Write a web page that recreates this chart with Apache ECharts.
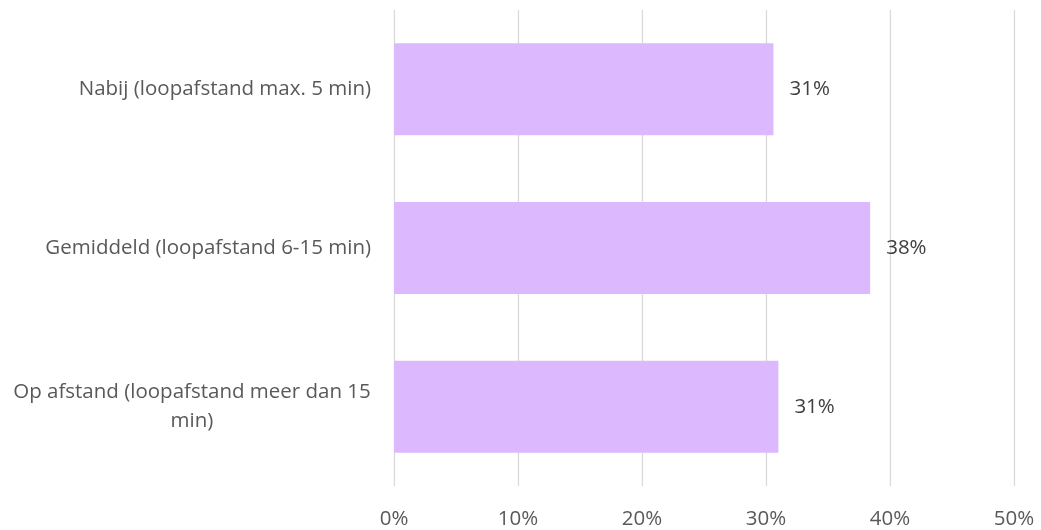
<!DOCTYPE html>
<html>
<head>
<meta charset="utf-8">
<script src="https://cdn.jsdelivr.net/npm/echarts@6/dist/echarts.min.js"></script>
<style>html,body{margin:0;padding:0;background:#fff;}#c{width:1041px;height:530px;}</style>
</head>
<body>
<div id="c"></div>
<script>
const categories = [
  "Nabij (loopafstand max. 5 min)",
  "Gemiddeld (loopafstand 6-15 min)",
  "Op afstand (loopafstand meer dan 15 min)"
];
const values = [30.6, 38.4, 31.0];
const tickLabels = ["0%", "10%", "20%", "30%", "40%", "50%"];

const font = '"Open Sans", sans-serif';
const fs = 20.5;
const line1 = "Op afstand (loopafstand meer dan 15";
const line2 = "min)";
const cv = document.createElement('canvas').getContext('2d');
cv.font = fs + 'px ' + font;
const w1 = Math.ceil(cv.measureText(line1).width);

const chart = echarts.init(document.getElementById('c'));
chart.setOption({
  animation: false,
  grid: { left: 394, right: 27, top: 10, bottom: 43, containLabel: false },
  xAxis: {
    type: 'value', min: 0, max: 50, interval: 10,
    axisLine: { show: false }, axisTick: { show: false },
    splitLine: { lineStyle: { color: '#D9D9D9', width: 1.3 } },
    axisLabel: {
      color: '#595959', fontSize: fs, fontFamily: font, margin: 23,
      formatter: function (v) { return tickLabels[Math.round(v / 10)]; }
    }
  },
  yAxis: {
    type: 'category', data: categories, inverse: true,
    axisLine: { show: false }, axisTick: { show: false },
    axisLabel: {
      color: '#595959', fontSize: fs, fontFamily: font, margin: 23,
      formatter: function (v) {
        if (v === categories[2]) {
          return '{c|' + line1 + '}\n{c|' + line2 + '}';
        }
        return v;
      },
      rich: { c: { width: w1, align: 'center', fontSize: fs, fontFamily: font, color: '#595959', lineHeight: 29 } }
    }
  },
  series: [{
    type: 'bar', data: values, barCategoryGap: '42%',
    itemStyle: { color: '#DCB9FF' },
    label: {
      show: true, position: 'right', distance: 16,
      color: '#404040', fontSize: fs, fontFamily: font,
      formatter: function (p) { return Math.round(p.value) + '%'; }
    }
  }]
});
</script>
</body>
</html>
